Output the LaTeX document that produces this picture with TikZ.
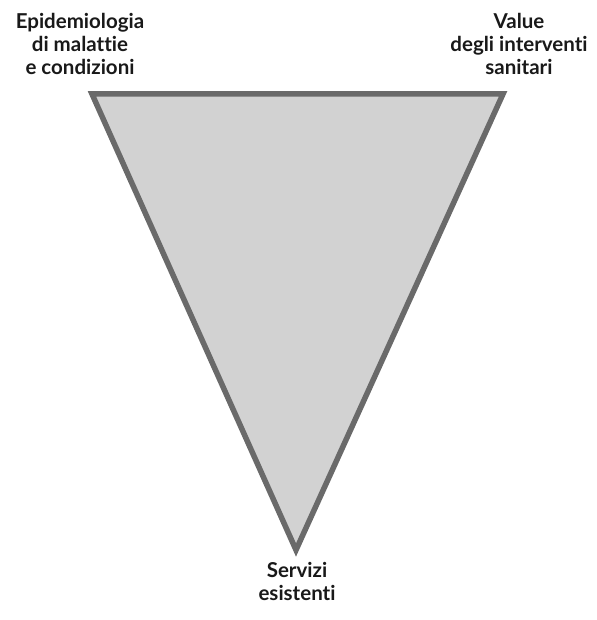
\documentclass[tikz,border=0pt]{standalone}
\usepackage{fontspec}
\setmainfont{Lato}[Ligatures=NoCommon]
\usetikzlibrary{positioning}
\definecolor{trifill}{HTML}{D2D2D2}
\definecolor{triedge}{HTML}{6A6A6A}
\tikzset{
  % piramide rovesciata
  tri/.style={draw=triedge,fill=trifill,line width=5.5pt,line join=miter},
  lab/.style={align=center,font=\fontsize{20.5}{23}\selectfont\bfseries,
              inner sep=0pt,text=black!90},
}
\begin{document}
\begin{tikzpicture}[x=1pt,y=-1pt]
\useasboundingbox (0,0) rectangle (596,620);
  \coordinate (tl) at (92,94);
  \coordinate (tr) at (503,94);
  \coordinate (bt) at (296,550);
  \draw[tri] (tl) -- (tr) -- (bt) -- cycle;
  \node[lab] (epi) at (80,44) {Epidemiologia\\di malattie\\e condizioni};
  \node[lab] (val) at (519,44) {Value\\degli interventi\\sanitari};
  \node[lab] (ser) at (297,581) {Servizi\\esistenti};
\end{tikzpicture}
\end{document}
